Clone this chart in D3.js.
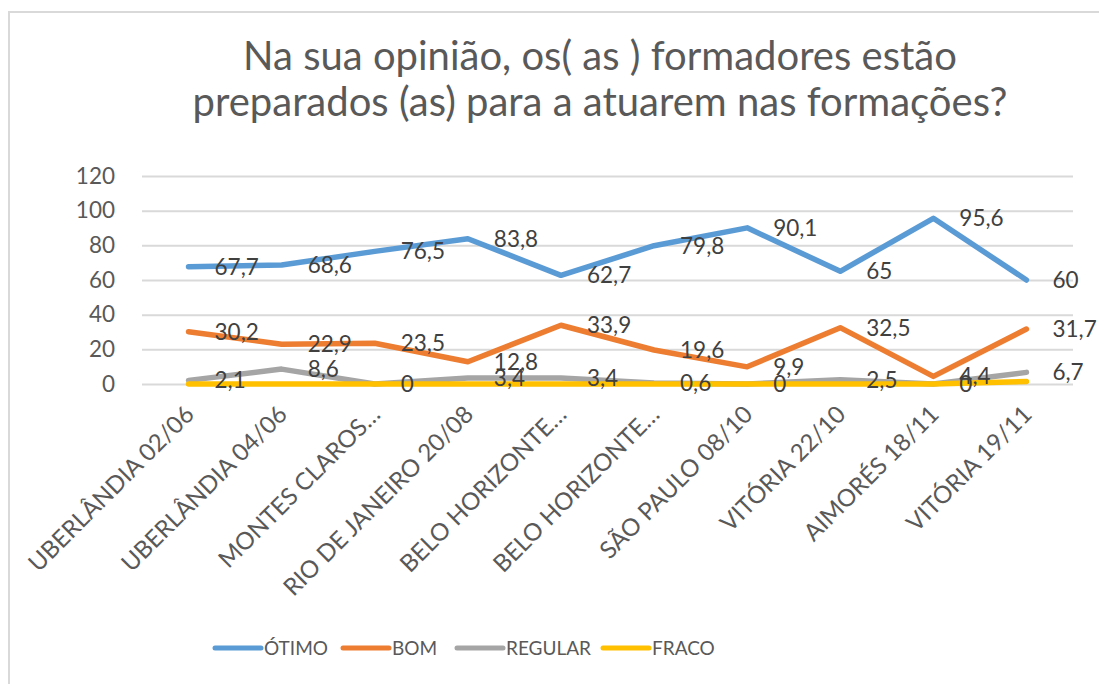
<!DOCTYPE html>
<html>
<head>
<meta charset="utf-8">
<script src="https://cdn.jsdelivr.net/npm/d3@7"></script>
<style>
  body { margin: 0; background: #fff; }
  svg { display: block; font-family: Lato, "Open Sans", sans-serif; }
</style>
</head>
<body>
<svg width="1099" height="684"></svg>
<script>
// categorias (locais/datas) e series
var categories = ["UBERLÂNDIA 02/06", "UBERLÂNDIA 04/06", "MONTES CLAROS…", "RIO DE JANEIRO 20/08",
  "BELO HORIZONTE…", "BELO HORIZONTE…", "SÃO PAULO 08/10", "VITÓRIA 22/10", "AIMORÉS 18/11", "VITÓRIA 19/11"];

var otimo   = [67.7, 68.6, 76.5, 83.8, 62.7, 79.8, 90.1, 65, 95.6, 60];
var bom     = [30.2, 22.9, 23.5, 12.8, 33.9, 19.6, 9.9, 32.5, 4.4, 31.7];
var regular = [2.1, 8.6, 0, 3.4, 3.4, 0.6, 0, 2.5, 0, 6.7];
var fraco   = [0, 0, 0, 0, 0, 0, 0, 0, 0, 1.5];

var seriesNames = ["ÓTIMO", "BOM", "REGULAR", "FRACO"];
var yTicks = [0, 20, 40, 60, 80, 100, 120];

var titleLines = ["Na sua opinião, os( as ) formadores estão",
  "preparados (as) para a atuarem nas formações?"];

var series = [
  {name: seriesNames[0], values: otimo,   color: "#5B9BD5", labels: true},
  {name: seriesNames[1], values: bom,     color: "#ED7D31", labels: true},
  {name: seriesNames[2], values: regular, color: "#A5A5A5", labels: true},
  {name: seriesNames[3], values: fraco,   color: "#FFC000", labels: false}
];

var svg = d3.select("svg"),
    margin = {top: 176, right: 26, bottom: 300, left: 142},
    width = 1073 - margin.left,
    height = 384 - margin.top;

var textColor = "#595959";

// moldura (so esquerda e topo aparecem no recorte)
svg.append("path")
    .attr("d", "M9,684V12H1099")
    .attr("fill", "none")
    .attr("stroke", "#d9d9d9")
    .attr("stroke-width", 2);

// titulo
svg.append("g").selectAll("text").data(titleLines).enter().append("text")
    .attr("x", 600)
    .attr("y", (d, i) => 70 + i * 46)
    .attr("text-anchor", "middle")
    .attr("fill", textColor)
    .style("font-size", "40px")
    .text(d => d);

var x = d3.scaleBand()
    .domain(d3.range(categories.length))
    .range([0, width]);

var y = d3.scaleLinear()
    .domain([0, 120])
    .range([height, 0]);

var g = svg.append("g")
    .attr("transform", "translate(" + margin.left + "," + margin.top + ")");

// grade horizontal
g.append("g")
    .attr("class", "grid")
    .call(d3.axisLeft(y).tickValues(yTicks).tickSize(-width).tickFormat(""))
    .call(s => s.select(".domain").remove())
    .call(s => s.selectAll("line").attr("stroke", "#d9d9d9").attr("stroke-width", 2));

// eixo y
g.append("g")
    .call(d3.axisLeft(y).tickValues(yTicks).tickSize(0).tickPadding(27))
    .call(s => s.select(".domain").remove())
    .call(s => s.selectAll("text")
        .attr("fill", textColor)
        .style("font-size", "22.5px")
        .style("font-family", "Lato, sans-serif"));

// eixo x, rotulos girados
var cx = i => x(i) + x.bandwidth() / 2;

g.append("g").selectAll("text").data(categories).enter().append("text")
    .attr("transform", (d, i) => "translate(" + (cx(i) + 1) + "," + (height + 26) + ") rotate(-45)")
    .attr("text-anchor", "end")
    .attr("dy", "0.35em")
    .attr("fill", textColor)
    .style("font-size", "24px")
    .text(d => d);

var line = d3.line()
    .x((d, i) => cx(i))
    .y(d => y(d));

// ultima serie fica por cima, como no excel
g.append("g").selectAll("path").data(series).enter().append("path")
    .attr("d", d => line(d.values))
    .attr("fill", "none")
    .attr("stroke", d => d.color)
    .attr("stroke-width", 5.5)
    .attr("stroke-linejoin", "round")
    .attr("stroke-linecap", "round");

// rotulos de dados a direita dos pontos
series.filter(s => s.labels).forEach(function(s) {
  g.append("g").selectAll("text").data(s.values).enter().append("text")
      .attr("x", (d, i) => cx(i) + 26)
      .attr("y", d => y(d))
      .attr("dy", "0.35em")
      .attr("fill", "#404040")
      .style("font-size", "22.5px")
      .text(d => String(d).replace(".", ","));
});

// legenda
var legendX = [215, 343, 457, 603];
var legend = svg.append("g").selectAll("g").data(series).enter().append("g")
    .attr("transform", (d, i) => "translate(" + legendX[i] + ",648)");

legend.append("line")
    .attr("x1", 0).attr("x2", 46)
    .attr("stroke", d => d.color)
    .attr("stroke-width", 5)
    .attr("stroke-linecap", "round");

legend.append("text")
    .attr("x", 49)
    .attr("dy", "0.35em")
    .attr("fill", textColor)
    .style("font-size", "19px")
    .text(d => d.name);
</script>
</body>
</html>
